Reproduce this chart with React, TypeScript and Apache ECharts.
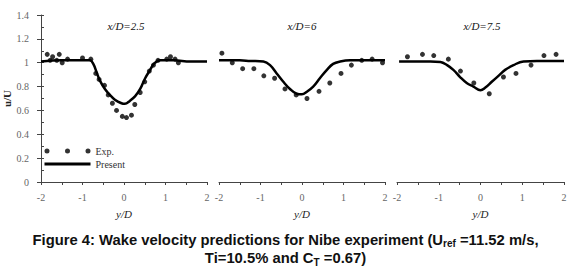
import React, { useEffect, useRef } from 'react';
import * as echarts from 'echarts';

const panelTitles = ['x/D=2.5', 'x/D=6', 'x/D=7.5'];
const seriesNames = ['Exp.', 'Present'];
const yAxisName = 'u/U';
const xAxisName = 'y/D';
const captionLine1 = ['Figure 4: Wake velocity predictions for Nibe experiment (U', 'ref', ' =11.52 m/s,'];
const captionLine2 = ['Ti=10.5% and C', 'T', ' =0.67)'];

const exp25: number[][] = [
  [-1.85, 1.07], [-1.78, 1.02], [-1.72, 1.05], [-1.62, 1.02], [-1.56, 1.07], [-1.49, 1.0],
  [-1.36, 1.03], [-1.0, 1.04], [-0.8, 1.03], [-0.68, 0.91], [-0.6, 0.86], [-0.47, 0.81],
  [-0.38, 0.73], [-0.28, 0.66], [-0.18, 0.6], [-0.04, 0.55], [0.06, 0.54], [0.18, 0.56],
  [0.26, 0.65], [0.39, 0.75], [0.5, 0.84], [0.61, 0.93], [0.71, 0.98], [0.82, 1.02],
  [1.03, 1.03], [1.12, 1.05], [1.23, 1.03], [1.31, 1.0],
];
const model25: number[][] = [
  [-2, 1.01], [-1.5, 1.02], [-1.0, 1.02], [-0.82, 1.02], [-0.74, 0.99], [-0.66, 0.92],
  [-0.58, 0.85], [-0.46, 0.78], [-0.34, 0.73], [-0.22, 0.69], [-0.06, 0.66], [0.02, 0.655],
  [0.14, 0.68], [0.27, 0.72], [0.39, 0.78], [0.51, 0.87], [0.63, 0.94], [0.72, 0.99],
  [0.87, 1.02], [1.2, 1.02], [1.6, 1.01], [2, 1.01],
];
const exp6: number[][] = [
  [-1.93, 1.08], [-1.68, 1.0], [-1.43, 0.95], [-1.16, 0.95], [-0.92, 0.89], [-0.66, 0.87],
  [-0.41, 0.78], [-0.14, 0.73], [0.12, 0.7], [0.41, 0.76], [0.67, 0.83], [0.94, 0.91],
  [1.19, 0.98], [1.44, 1.02], [1.69, 1.03], [1.94, 1.0],
];
const model6: number[][] = [
  [-2, 1.02], [-1.5, 1.02], [-1.25, 1.015], [-0.93, 1.01], [-0.77, 0.98], [-0.61, 0.91],
  [-0.45, 0.84], [-0.29, 0.78], [-0.13, 0.74], [0, 0.735], [0.11, 0.755], [0.27, 0.8],
  [0.43, 0.87], [0.6, 0.94], [0.75, 0.99], [0.92, 1.01], [1.16, 1.02], [1.6, 1.02], [2, 1.02],
];
const exp75: number[][] = [
  [-1.75, 1.05], [-1.39, 1.07], [-1.12, 1.06], [-0.77, 1.03], [-0.48, 0.93], [-0.16, 0.83],
  [0.21, 0.74], [0.55, 0.88], [0.85, 0.91], [1.21, 0.98], [1.52, 1.06], [1.81, 1.07],
];
const model75: number[][] = [
  [-1.95, 1.01], [-1.5, 1.01], [-1.2, 1.01], [-0.96, 1.006], [-0.8, 0.98], [-0.65, 0.94],
  [-0.49, 0.88], [-0.33, 0.83], [-0.17, 0.8], [0, 0.77], [0.11, 0.79], [0.27, 0.84],
  [0.43, 0.89], [0.59, 0.94], [0.79, 0.98], [1.03, 1.01], [1.35, 1.014], [2, 1.014],
];

const expData = [exp25, exp6, exp75];
const modelData = [model25, model6, model75];

const SERIF = 'Liberation Serif';
const SANS = 'Liberation Sans';
const AXIS_COLOR = '#444';
const LABEL_COLOR = '#666';

const grids = [
  { left: 41, top: 15, width: 166, height: 167 },
  { left: 219, top: 15, width: 166, height: 167 },
  { left: 397, top: 15, width: 167, height: 167 },
];
const titleCenters = [126, 302, 482];

const dotsIcon =
  'path://M0,2.5a2.5,2.5 0 1,0 5,0a2.5,2.5 0 1,0 -5,0Z M20.5,2.5a2.5,2.5 0 1,0 5,0a2.5,2.5 0 1,0 -5,0Z M41,2.5a2.5,2.5 0 1,0 5,0a2.5,2.5 0 1,0 -5,0Z';
const lineIcon = 'path://M0,0L0.01,0L0,0.01Z M0,1.1L46,1.1L46,3.9L0,3.9Z M46,5L45.99,5L46,4.99Z';

export default function App() {
  const ref = useRef<HTMLDivElement>(null);
  useEffect(() => {
    if (!ref.current) return;
    const chart = echarts.init(ref.current, undefined, { renderer: 'svg' });
    const xAxes = grids.map((_, i) => ({
      type: 'value',
      gridIndex: i,
      min: -2,
      max: 2,
      interval: 1,
      axisLine: { show: true, onZero: false, lineStyle: { color: AXIS_COLOR, width: 1 } },
      axisTick: { show: true, length: 3, lineStyle: { color: AXIS_COLOR } },
      minorTick: { show: true, splitNumber: 2, length: 3, lineStyle: { color: AXIS_COLOR } },
      splitLine: { show: false },
      axisLabel: { color: LABEL_COLOR, fontFamily: SERIF, fontSize: 10, margin: 10 },
      name: xAxisName,
      nameLocation: 'middle',
      nameGap: 26,
      nameTextStyle: { fontFamily: SERIF, fontStyle: 'italic', fontSize: 11, color: '#222' },
    }));
    const yAxes: any[] = grids.map((_, i) => ({
      type: 'value',
      gridIndex: i,
      min: 0,
      max: 1.4,
      interval: 0.2,
      show: i === 0,
      axisLine: { show: true, onZero: false, lineStyle: { color: AXIS_COLOR, width: 1 } },
      axisTick: { show: true, length: 4, lineStyle: { color: AXIS_COLOR } },
      splitLine: { show: false },
      axisLabel: { color: LABEL_COLOR, fontFamily: SERIF, fontSize: 10, margin: 12 },
      name: i === 0 ? yAxisName : '',
      nameLocation: 'middle',
      nameGap: 27,
      nameRotate: 90,
      nameTextStyle: { fontFamily: SERIF, fontWeight: 'bold', fontSize: 11, color: '#222' },
    }));
    yAxes.push({
      type: 'value',
      gridIndex: 0,
      min: 0,
      max: 1.4,
      interval: 0.1,
      position: 'left',
      axisLine: { show: false, onZero: false },
      axisTick: { show: true, inside: true, length: 3, lineStyle: { color: AXIS_COLOR } },
      axisLabel: { show: false },
      splitLine: { show: false },
    });
    const series: any[] = [];
    grids.forEach((_, i) => {
      series.push({
        name: seriesNames[0],
        type: 'scatter',
        xAxisIndex: i,
        yAxisIndex: i,
        data: expData[i],
        symbol: 'circle',
        symbolSize: 5,
        itemStyle: { color: '#000' },
      });
      series.push({
        name: seriesNames[1],
        type: 'line',
        xAxisIndex: i,
        yAxisIndex: i,
        data: modelData[i],
        smooth: 0.4,
        symbol: 'none',
        lineStyle: { color: '#000', width: 2.5 },
        itemStyle: { color: '#000' },
      });
    });
    const captionRich = {
      b: { fontFamily: SANS, fontWeight: 'bold', fontSize: 14.8, lineHeight: 18, fill: '#111' },
      s: { fontFamily: SANS, fontWeight: 'bold', fontSize: 10, lineHeight: 8, verticalAlign: 'bottom', fill: '#111' },
    };
    const option: any = {
      animation: false,
      backgroundColor: '#fff',
      textStyle: { fontFamily: SERIF },
      grid: grids,
      xAxis: xAxes,
      yAxis: yAxes,
      title: panelTitles.map((t, i) => ({
        text: t,
        left: titleCenters[i],
        top: 19,
        textAlign: 'center',
        padding: 0,
        textStyle: { fontFamily: SERIF, fontStyle: 'italic', fontWeight: 'normal', fontSize: 11, lineHeight: 13, color: '#111' },
      })),
      legend: {
        orient: 'vertical',
        left: 44.5,
        top: 145,
        itemGap: 1,
        itemWidth: 46,
        itemHeight: 5,
        padding: 0,
        textStyle: { fontFamily: SERIF, fontSize: 10, color: '#333', lineHeight: 12 },
        data: [
          { name: seriesNames[0], icon: dotsIcon },
          { name: seriesNames[1], icon: lineIcon },
        ],
      },
      graphic: [
        {
          type: 'text',
          left: 'center',
          top: 232,
          style: {
            text: `{b|${captionLine1[0]}}{s|${captionLine1[1]}}{b|${captionLine1[2]}}`,
            rich: captionRich,
          },
        },
        {
          type: 'text',
          left: 'center',
          top: 250.5,
          style: {
            text: `{b|${captionLine2[0]}}{s|${captionLine2[1]}}{b|${captionLine2[2]}}`,
            rich: captionRich,
          },
        },
      ],
      series,
    };
    chart.setOption(option);
    return () => chart.dispose();
  }, []);
  return (
    <div
      ref={ref}
      style={{ position: 'absolute', left: 0, top: 0, width: 571, height: 277, background: '#fff' }}
    />
  );
}
